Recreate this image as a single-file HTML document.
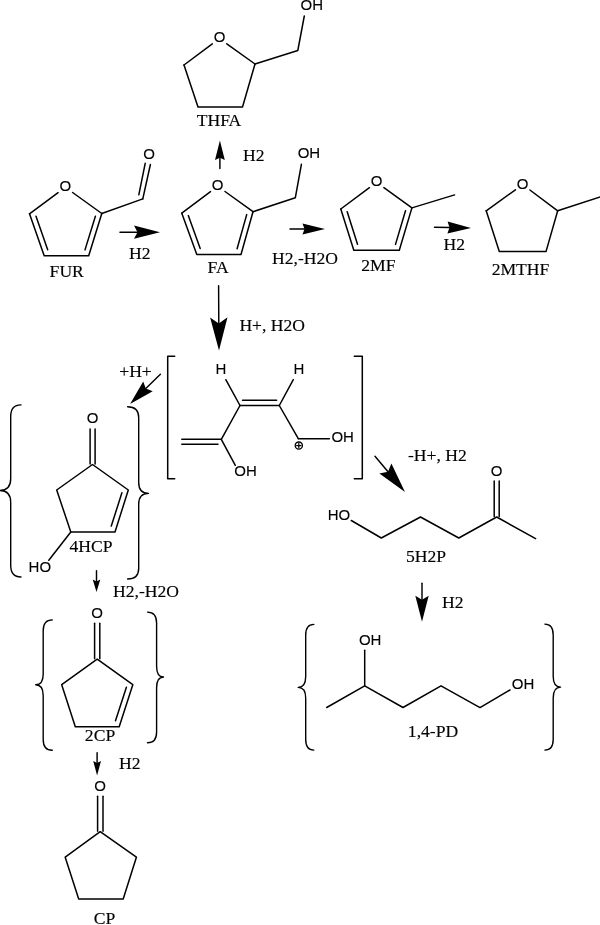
<!DOCTYPE html>
<html><head><meta charset="utf-8"><style>
html,body{margin:0;padding:0;background:#fff;width:600px;height:925px;overflow:hidden}
svg{display:block;will-change:transform}
.s{font-family:"Liberation Sans",sans-serif}
.r{font-family:"Liberation Serif",serif}
</style></head><body>
<svg width="600" height="925" viewBox="0 0 600 925" stroke="#000" fill="#000" stroke-linecap="round" stroke-linejoin="round">
<g>
<line x1="212.3" y1="43.9" x2="184.0" y2="65.0" stroke-width="1.5"/>
<line x1="226.8" y1="43.8" x2="255.0" y2="64.0" stroke-width="1.5"/>
<polyline points="184.0,65.0 198.0,107.0 242.5,107.0 255.0,64.0" fill="none" stroke-width="1.5"/>
<text class="s" stroke="#000" stroke-width="0.12" x="219.5" y="42.4" font-size="15" text-anchor="middle">O</text>
<polyline points="255.0,64.0 297.8,50.5 304.3,16.0" fill="none" stroke-width="1.5"/>
<text class="s" stroke="#000" stroke-width="0.12" x="311.8" y="10.0" font-size="15" text-anchor="middle">OH</text>
<text class="r" stroke="#000" stroke-width="0.15" transform="translate(219.00,126.39) scale(1.0,1)" x="0" y="0" font-size="17.6" text-anchor="middle">THFA</text>
<line x1="58.1" y1="192.7" x2="29.5" y2="213.8" stroke-width="1.5"/>
<line x1="72.6" y1="192.5" x2="101.8" y2="213.5" stroke-width="1.5"/>
<polyline points="29.5,213.8 44.2,255.8 88.7,255.8 101.8,213.5" fill="none" stroke-width="1.5"/>
<line x1="36.0" y1="216.3" x2="47.7" y2="249.8" stroke-width="1.5"/>
<line x1="85.0" y1="249.9" x2="95.4" y2="216.2" stroke-width="1.5"/>
<text class="s" stroke="#000" stroke-width="0.12" x="65.3" y="191.2" font-size="15" text-anchor="middle">O</text>
<line x1="101.8" y1="213.5" x2="142.8" y2="198.9" stroke-width="1.5"/>
<line x1="142.8" y1="198.9" x2="150.4" y2="164.5" stroke-width="1.5"/>
<line x1="138.8" y1="194.8" x2="145.2" y2="163.3" stroke-width="1.5"/>
<text class="s" stroke="#000" stroke-width="0.12" x="149.0" y="158.5" font-size="15" text-anchor="middle">O</text>
<text class="r" stroke="#000" stroke-width="0.15" transform="translate(66.70,276.59) scale(1.0,1)" x="0" y="0" font-size="17.6" text-anchor="middle">FUR</text>
<line x1="120.0" y1="232.2" x2="137.5" y2="232.2" stroke-width="1.45"/>
<polygon points="160.0,232.2 134.0,238.8 137.5,232.2 134.0,225.6" fill="#000" stroke="none"/>
<text class="r" stroke="#000" stroke-width="0.15" transform="translate(139.80,259.09) scale(1.0,1)" x="0" y="0" font-size="17.6" text-anchor="middle">H2</text>
<line x1="210.5" y1="191.6" x2="181.8" y2="213.2" stroke-width="1.5"/>
<line x1="225.0" y1="191.5" x2="253.0" y2="211.7" stroke-width="1.5"/>
<polyline points="181.8,213.2 196.8,254.5 241.0,254.5 253.0,211.7" fill="none" stroke-width="1.5"/>
<line x1="188.3" y1="215.6" x2="200.2" y2="248.5" stroke-width="1.5"/>
<line x1="237.1" y1="248.7" x2="246.7" y2="214.6" stroke-width="1.5"/>
<text class="s" stroke="#000" stroke-width="0.12" x="217.7" y="190.1" font-size="15" text-anchor="middle">O</text>
<polyline points="253.0,211.7 295.3,197.8 301.4,164.3" fill="none" stroke-width="1.5"/>
<text class="s" stroke="#000" stroke-width="0.12" x="308.9" y="158.2" font-size="15" text-anchor="middle">OH</text>
<text class="r" stroke="#000" stroke-width="0.15" transform="translate(218.00,273.19) scale(1.0,1)" x="0" y="0" font-size="17.6" text-anchor="middle">FA</text>
<line x1="219.9" y1="168.6" x2="219.9" y2="157.7" stroke-width="1.45"/>
<polygon points="219.9,140.6 224.8,159.9 219.9,157.7 215.0,159.9" fill="#000" stroke="none"/>
<text class="r" stroke="#000" stroke-width="0.15" transform="translate(253.80,161.19) scale(1.0,1)" x="0" y="0" font-size="17.6" text-anchor="middle">H2</text>
<line x1="290.0" y1="229.0" x2="304.5" y2="229.0" stroke-width="1.45"/>
<polygon points="325.0,229.0 302.5,234.5 304.5,229.0 302.5,223.5" fill="#000" stroke="none"/>
<text class="r" stroke="#000" stroke-width="0.15" transform="translate(272.00,264.39) scale(1.0,1)" x="0" y="0" font-size="17.6" text-anchor="start">H2,-H2O</text>
<line x1="218.6" y1="285.6" x2="218.8" y2="323.4" stroke-width="1.45"/>
<polygon points="219.0,350.4 210.1,317.5 218.8,323.4 227.5,317.3" fill="#000" stroke="none"/>
<text class="r" stroke="#000" stroke-width="0.15" transform="translate(239.40,330.89) scale(1.0,1)" x="0" y="0" font-size="17.6" text-anchor="start">H+, H2O</text>
<line x1="369.4" y1="187.7" x2="340.8" y2="209.0" stroke-width="1.5"/>
<line x1="383.9" y1="187.6" x2="411.9" y2="207.9" stroke-width="1.5"/>
<polyline points="340.8,209.0 353.8,250.2 399.3,250.2 411.9,207.9" fill="none" stroke-width="1.5"/>
<line x1="347.2" y1="211.7" x2="357.5" y2="244.3" stroke-width="1.5"/>
<line x1="395.5" y1="244.4" x2="405.5" y2="210.7" stroke-width="1.5"/>
<text class="s" stroke="#000" stroke-width="0.12" x="376.6" y="186.2" font-size="15" text-anchor="middle">O</text>
<line x1="411.9" y1="207.9" x2="454.6" y2="194.9" stroke-width="1.5"/>
<text class="r" stroke="#000" stroke-width="0.15" transform="translate(378.30,271.19) scale(1.0,1)" x="0" y="0" font-size="17.6" text-anchor="middle">2MF</text>
<line x1="434.5" y1="227.2" x2="449.5" y2="227.5" stroke-width="1.45"/>
<polygon points="471.0,228.0 447.4,233.5 449.5,227.5 447.6,221.5" fill="#000" stroke="none"/>
<text class="r" stroke="#000" stroke-width="0.15" transform="translate(454.20,250.09) scale(1.0,1)" x="0" y="0" font-size="17.6" text-anchor="middle">H2</text>
<line x1="515.4" y1="189.8" x2="486.2" y2="210.8" stroke-width="1.5"/>
<line x1="529.9" y1="190.0" x2="557.7" y2="210.8" stroke-width="1.5"/>
<polyline points="486.2,210.8 499.3,251.6 546.0,251.6 557.7,210.8" fill="none" stroke-width="1.5"/>
<text class="s" stroke="#000" stroke-width="0.12" x="522.7" y="188.5" font-size="15" text-anchor="middle">O</text>
<line x1="557.7" y1="210.8" x2="601.0" y2="196.6" stroke-width="1.5"/>
<text class="r" stroke="#000" stroke-width="0.15" transform="translate(520.50,275.29) scale(1.0,1)" x="0" y="0" font-size="17.6" text-anchor="middle">2MTHF</text>
<polyline points="174.7,356.3 167.7,356.3 167.7,478.8 174.7,478.8" fill="none" stroke-width="1.5"/>
<polyline points="354.3,356.3 362.3,356.3 362.3,478.8 354.3,478.8" fill="none" stroke-width="1.5"/>
<text class="s" stroke="#000" stroke-width="0.12" x="221.0" y="374.4" font-size="15" text-anchor="middle">H</text>
<text class="s" stroke="#000" stroke-width="0.12" x="299.0" y="374.2" font-size="15" text-anchor="middle">H</text>
<line x1="225.8" y1="379.7" x2="240.0" y2="405.5" stroke-width="1.5"/>
<line x1="293.3" y1="379.7" x2="279.3" y2="405.5" stroke-width="1.5"/>
<line x1="240.0" y1="405.5" x2="279.3" y2="405.5" stroke-width="1.5"/>
<line x1="242.5" y1="400.3" x2="276.6" y2="400.3" stroke-width="1.5"/>
<line x1="240.0" y1="405.5" x2="221.3" y2="439.3" stroke-width="1.5"/>
<line x1="181.8" y1="439.3" x2="221.3" y2="439.3" stroke-width="1.5"/>
<line x1="181.8" y1="444.2" x2="218.0" y2="444.2" stroke-width="1.5"/>
<line x1="221.3" y1="439.3" x2="235.3" y2="465.3" stroke-width="1.5"/>
<text class="s" stroke="#000" stroke-width="0.12" x="245.5" y="476.2" font-size="15" text-anchor="middle">OH</text>
<line x1="279.3" y1="405.5" x2="298.3" y2="438.7" stroke-width="1.5"/>
<line x1="298.3" y1="438.7" x2="329.4" y2="438.7" stroke-width="1.5"/>
<text class="s" stroke="#000" stroke-width="0.12" x="342.7" y="442.2" font-size="15" text-anchor="middle">OH</text>
<circle cx="298.8" cy="445.6" r="3.6" fill="none" stroke-width="1.3"/>
<line x1="296.6" y1="445.6" x2="301.0" y2="445.6" stroke-width="1.2"/>
<line x1="298.8" y1="443.4" x2="298.8" y2="447.8" stroke-width="1.2"/>
<text class="r" stroke="#000" stroke-width="0.15" transform="translate(135.50,376.89) scale(1.0,1)" x="0" y="0" font-size="17.6" text-anchor="middle">+H+</text>
<line x1="160.4" y1="374.2" x2="145.8" y2="388.6" stroke-width="1.45"/>
<polygon points="130.1,404.0 143.2,381.6 145.8,388.6 152.7,391.3" fill="#000" stroke="none"/>
<path d="M21.0,404.9 Q10.7,404.9 10.7,416.6 L10.7,478.8 Q10.7,490.5 -0.5,490.5 Q10.7,490.5 10.7,502.2 L10.7,565.3 Q10.7,577.0 21.0,577.0" fill="none" stroke-width="1.4"/>
<path d="M127.6,406.8 Q138.7,406.8 138.7,417.6 L138.7,482.6 Q138.7,493.4 148.5,493.4 Q138.7,493.4 138.7,504.2 L138.7,568.2 Q138.7,579.0 127.6,579.0" fill="none" stroke-width="1.4"/>
<text class="s" stroke="#000" stroke-width="0.12" x="92.7" y="422.9" font-size="15" text-anchor="middle">O</text>
<line x1="90.1" y1="428.9" x2="90.1" y2="464.0" stroke-width="1.5"/>
<line x1="95.1" y1="428.9" x2="95.1" y2="464.0" stroke-width="1.5"/>
<polyline points="56.7,490.0 92.5,464.5 128.3,490.0 115.0,532.0 70.8,532.0 56.7,490.0" fill="none" stroke-width="1.5"/>
<line x1="121.9" y1="492.7" x2="111.3" y2="526.1" stroke-width="1.5"/>
<line x1="70.8" y1="532.0" x2="48.8" y2="560.3" stroke-width="1.5"/>
<text class="s" stroke="#000" stroke-width="0.12" x="39.8" y="571.7" font-size="15" text-anchor="middle">HO</text>
<text class="r" stroke="#000" stroke-width="0.15" transform="translate(91.00,552.39) scale(1.0,1)" x="0" y="0" font-size="17.6" text-anchor="middle">4HCP</text>
<line x1="96.5" y1="570.7" x2="96.5" y2="581.5" stroke-width="1.45"/>
<polygon points="96.5,592.0 92.7,579.5 96.5,581.5 100.3,579.5" fill="#000" stroke="none"/>
<text class="r" stroke="#000" stroke-width="0.15" transform="translate(113.00,597.39) scale(1.0,1)" x="0" y="0" font-size="17.6" text-anchor="start">H2,-H2O</text>
<path d="M52.3,619.9 Q43.2,619.9 43.2,630.7 L43.2,674.0 Q43.2,684.8 35.7,684.8 Q43.2,684.8 43.2,695.6 L43.2,739.4 Q43.2,750.2 52.3,750.2" fill="none" stroke-width="1.4"/>
<path d="M147.5,612.1 Q156.6,612.1 156.6,622.9 L156.6,666.2 Q156.6,677.0 163.5,677.0 Q156.6,677.0 156.6,687.8 L156.6,731.9 Q156.6,742.7 147.5,742.7" fill="none" stroke-width="1.4"/>
<text class="s" stroke="#000" stroke-width="0.12" x="97.1" y="617.8" font-size="15" text-anchor="middle">O</text>
<line x1="94.6" y1="623.3" x2="94.6" y2="658.7" stroke-width="1.5"/>
<line x1="99.8" y1="623.3" x2="99.8" y2="658.7" stroke-width="1.5"/>
<polyline points="61.7,684.7 97.2,659.2 132.8,684.7 119.2,726.7 75.3,726.7 61.7,684.7" fill="none" stroke-width="1.5"/>
<line x1="126.4" y1="687.3" x2="115.5" y2="720.8" stroke-width="1.5"/>
<text class="r" stroke="#000" stroke-width="0.15" transform="translate(100.00,741.39) scale(1.0,1)" x="0" y="0" font-size="17.6" text-anchor="middle">2CP</text>
<line x1="97.1" y1="752.7" x2="97.1" y2="763.0" stroke-width="1.45"/>
<polygon points="97.1,775.5 93.2,761.0 97.1,763.0 101.0,761.0" fill="#000" stroke="none"/>
<text class="r" stroke="#000" stroke-width="0.15" transform="translate(129.80,769.19) scale(1.0,1)" x="0" y="0" font-size="17.6" text-anchor="middle">H2</text>
<text class="s" stroke="#000" stroke-width="0.12" x="100.0" y="790.6" font-size="15" text-anchor="middle">O</text>
<line x1="97.6" y1="796.2" x2="97.6" y2="831.2" stroke-width="1.5"/>
<line x1="103.0" y1="796.2" x2="103.0" y2="831.2" stroke-width="1.5"/>
<polyline points="65.2,857.2 100.2,831.7 136.4,857.2 123.2,899.0 78.7,899.0 65.2,857.2" fill="none" stroke-width="1.5"/>
<text class="r" stroke="#000" stroke-width="0.15" transform="translate(104.60,924.39) scale(1.0,1)" x="0" y="0" font-size="17.6" text-anchor="middle">CP</text>
<line x1="375.0" y1="456.2" x2="388.0" y2="471.7" stroke-width="1.45"/>
<polygon points="405.0,492.0 379.4,473.6 388.0,471.7 391.4,463.6" fill="#000" stroke="none"/>
<text class="r" stroke="#000" stroke-width="0.15" transform="translate(408.00,460.69) scale(1.0,1)" x="0" y="0" font-size="17.6" text-anchor="start">-H+, H2</text>
<text class="s" stroke="#000" stroke-width="0.12" x="339.0" y="520.2" font-size="15" text-anchor="middle">HO</text>
<polyline points="351.3,520.5 381.3,538.0 420.5,517.0 458.8,538.0 496.7,517.0 535.6,538.7" fill="none" stroke-width="1.5"/>
<line x1="494.2" y1="516.5" x2="494.2" y2="481.0" stroke-width="1.5"/>
<line x1="499.2" y1="516.5" x2="499.2" y2="481.0" stroke-width="1.5"/>
<text class="s" stroke="#000" stroke-width="0.12" x="496.7" y="475.7" font-size="15" text-anchor="middle">O</text>
<text class="r" stroke="#000" stroke-width="0.15" transform="translate(426.00,562.49) scale(1.0,1)" x="0" y="0" font-size="17.6" text-anchor="middle">5H2P</text>
<line x1="422.0" y1="583.3" x2="422.0" y2="599.7" stroke-width="1.45"/>
<polygon points="422.0,621.7 415.3,595.7 422.0,599.7 428.7,595.7" fill="#000" stroke="none"/>
<text class="r" stroke="#000" stroke-width="0.15" transform="translate(452.70,608.29) scale(1.0,1)" x="0" y="0" font-size="17.6" text-anchor="middle">H2</text>
<path d="M313.8,624.4 Q305.7,624.4 305.7,635.2 L305.7,676.6 Q305.7,687.4 298.2,687.4 Q305.7,687.4 305.7,698.2 L305.7,739.3 Q305.7,750.1 313.8,750.1" fill="none" stroke-width="1.4"/>
<path d="M544.9,624.1 Q553.2,624.1 553.2,634.9 L553.2,676.3 Q553.2,687.1 560.6,687.1 Q553.2,687.1 553.2,697.9 L553.2,739.3 Q553.2,750.1 544.9,750.1" fill="none" stroke-width="1.4"/>
<text class="s" stroke="#000" stroke-width="0.12" x="370.2" y="645.4" font-size="15" text-anchor="middle">OH</text>
<line x1="364.7" y1="650.3" x2="364.7" y2="685.8" stroke-width="1.5"/>
<polyline points="326.7,707.5 364.7,685.8 403.0,707.5 441.0,685.8 480.0,707.6 510.0,690.0" fill="none" stroke-width="1.5"/>
<text class="s" stroke="#000" stroke-width="0.12" x="523.0" y="688.9" font-size="15" text-anchor="middle">OH</text>
<text class="r" stroke="#000" stroke-width="0.15" transform="translate(433.00,737.09) scale(1.0,1)" x="0" y="0" font-size="17.6" text-anchor="middle">1,4-PD</text>
</g>
</svg>
</body></html>
